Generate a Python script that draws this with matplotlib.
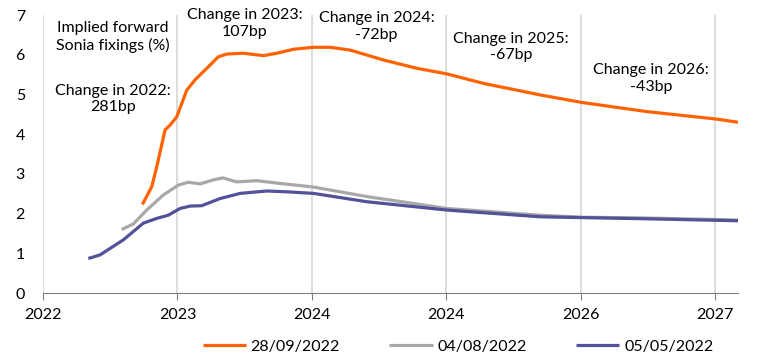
import matplotlib
matplotlib.use("Agg")
from matplotlib import pyplot as plt

plt.rcParams['font.family'] = ['Lato', 'DejaVu Sans']

# fractional year positions and forward fixings (%)
oct_x = [2022.739, 2022.809, 2022.846, 2022.908, 2022.945, 2022.995, 2023.069, 2023.131,
         2023.218, 2023.304, 2023.367, 2023.490, 2023.639, 2023.739, 2023.862, 2024.011,
         2024.135, 2024.284, 2024.532, 2024.781, 2025.004, 2025.276, 2025.698, 2026.008,
         2026.490, 2027.013, 2027.173]
oct_y = [2.23, 2.68, 3.18, 4.11, 4.23, 4.44, 5.11, 5.37, 5.66, 5.95, 6.02, 6.04, 5.98, 6.04,
         6.14, 6.19, 6.19, 6.12, 5.87, 5.66, 5.52, 5.28, 4.99, 4.80, 4.57, 4.38, 4.30]

aug_x = [2022.585, 2022.672, 2022.771, 2022.895, 2023.007, 2023.081, 2023.168, 2023.267,
         2023.337, 2023.441, 2023.590, 2023.763, 2024.011, 2024.408, 2025.004, 2025.698,
         2026.008, 2026.490, 2027.173]
aug_y = [1.60, 1.74, 2.09, 2.47, 2.72, 2.79, 2.75, 2.85, 2.90, 2.80, 2.83, 2.76, 2.67, 2.43,
         2.13, 1.96, 1.91, 1.89, 1.84]

may_x = [2022.337, 2022.424, 2022.598, 2022.746, 2022.846, 2022.932, 2023.019, 2023.094,
         2023.181, 2023.317, 2023.466, 2023.664, 2023.813, 2024.011, 2024.408, 2025.004,
         2025.698, 2026.008, 2026.490, 2027.173]
may_y = [0.87, 0.96, 1.34, 1.76, 1.88, 1.96, 2.13, 2.19, 2.20, 2.38, 2.51, 2.57, 2.55, 2.51,
         2.30, 2.09, 1.92, 1.90, 1.87, 1.82]

tick_pos = [2022, 2023, 2024, 2025, 2026, 2027]
tick_labels = ["2022", "2023", "2024", "2024", "2026", "2027"]

notes = [
    (2022.52, 6.45, "Implied forward\nSonia fixings (%)"),
    (2022.52, 4.89, "Change in 2022:\n281bp"),
    (2023.50, 6.78, "Change in 2023:\n107bp"),
    (2024.48, 6.71, "Change in 2024:\n-72bp"),
    (2025.48, 6.20, "Change in 2025:\n-67bp"),
    (2026.52, 5.40, "Change in 2026:\n-43bp"),
]

fig = plt.figure(figsize=(7.61, 3.6), dpi=100)
ax = fig.add_axes([0.0565, 0.186, 0.9135, 0.772])

ax.plot(oct_x, oct_y, color="#ff6200", lw=2.3, label="28/09/2022", solid_capstyle="butt")
ax.plot(aug_x, aug_y, color="#a8a8a8", lw=2.3, label="04/08/2022", solid_capstyle="butt")
ax.plot(may_x, may_y, color="#525199", lw=2.3, label="05/05/2022", solid_capstyle="butt")

ax.set_xlim(2022, 2027.17)
ax.set_ylim(0, 7)
ax.set_xticks(tick_pos)
ax.set_xticklabels(tick_labels)
ax.set_yticks(range(0, 8))
ax.grid(axis="x", color="#d9d9d9", lw=1.3)
ax.set_axisbelow(True)
for s in ["top", "right", "left"]:
    ax.spines[s].set_visible(False)
ax.spines["bottom"].set_color("#808080")
ax.tick_params(axis="x", colors="#808080", length=5, labelcolor="black", labelsize=11.5, pad=6)
ax.tick_params(axis="y", length=0, labelsize=11.5, pad=13)

for x, y, t in notes:
    ax.text(x, y, t, ha="center", va="center", fontsize=11.5, linespacing=1.25)

ax.legend(loc="upper right", bbox_to_anchor=(0.985, -0.115), ncol=3, frameon=False,
          fontsize=11.5, handlelength=2.7, handletextpad=0.3, columnspacing=3.1)

fig.savefig("out.png", dpi=100)
